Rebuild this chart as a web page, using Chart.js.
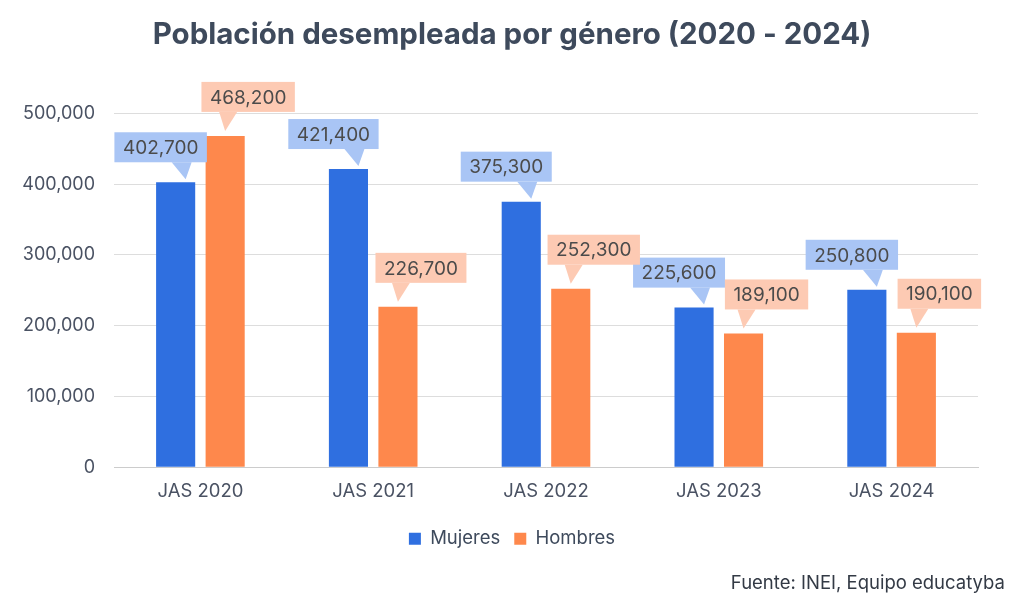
<!DOCTYPE html>
<html>
<head>
<meta charset="utf-8">
<script src="https://cdn.jsdelivr.net/npm/chart.js@4.4.1/dist/chart.umd.min.js"></script>
<style>
  html, body { margin: 0; padding: 0; background: #ffffff; }
  #wrap { position: relative; width: 1024px; height: 608px; }
  #source { position: absolute; right: 19px; top: 571px; font: 18.5px Inter, sans-serif; color: #333a45; }
</style>
</head>
<body>
<div id="wrap">
  <canvas id="c" width="1024" height="608"></canvas>
  <div id="source">Fuente: INEI, Equipo educatyba</div>
</div>
<script>
const categories = ['JAS 2020', 'JAS 2021', 'JAS 2022', 'JAS 2023', 'JAS 2024'];
const mujeres = [402700, 421400, 375300, 225600, 250800];
const hombres = [468200, 226700, 252300, 189100, 190100];
const yTicks = [0, 100000, 200000, 300000, 400000, 500000];
const titleText = 'Población desempleada por género (2020 - 2024)';

const fmt = v => v.toLocaleString('en-US');

const calloutPlugin = {
  id: 'callouts',
  afterDatasetsDraw(chart) {
    const ctx = chart.ctx;
    ctx.save();
    ctx.font = '19px Inter, sans-serif';
    chart.data.datasets.forEach((ds, di) => {
      const meta = chart.getDatasetMeta(di);
      meta.data.forEach((bar, i) => {
        const text = fmt(ds.data[i]);
        const tw = ctx.measureText(text).width;
        const bw = tw + 17, bh = 30;
        const isM = di === 0;
        const cx = bar.x + (isM ? -15 : 23);
        const bottom = bar.y - (isM ? 20 : 24);
        const left = cx - bw / 2;
        ctx.fillStyle = ds.calloutColor;
        ctx.fillRect(left, bottom - bh, bw, bh);
        ctx.beginPath();
        if (isM) {
          ctx.moveTo(bar.x - 4, bottom);
          ctx.lineTo(bar.x + 16, bottom);
          ctx.lineTo(bar.x + 10, bar.y - 3);
        } else {
          ctx.moveTo(bar.x - 6, bottom);
          ctx.lineTo(bar.x + 12, bottom);
          ctx.lineTo(bar.x, bar.y - 5);
        }
        ctx.closePath();
        ctx.fill();
        ctx.fillStyle = '#4b4b4b';
        ctx.textAlign = 'center';
        ctx.textBaseline = 'middle';
        ctx.fillText(text, cx, bottom - bh / 2 + 1);
      });
    });
    ctx.restore();
  }
};

new Chart(document.getElementById('c'), {
  type: 'bar',
  data: {
    labels: categories,
    datasets: [
      { label: 'Mujeres', data: mujeres, backgroundColor: '#2f6fe0', calloutColor: '#a9c5f5' },
      { label: 'Hombres', data: hombres, backgroundColor: '#fe884c', calloutColor: '#fdcab3' }
    ]
  },
  options: {
    responsive: false,
    animation: false,
    categoryPercentage: 0.573,
    barPercentage: 0.79,
    layout: { padding: { left: 0, right: 0, top: 0, bottom: 50 } },
    plugins: {
      title: {
        display: true, text: titleText,
        font: { family: 'Inter, sans-serif', size: 29.5, weight: 'bold' },
        color: '#3e4a5c',
        padding: { top: 17, bottom: 61 }
      },
      legend: {
        position: 'bottom',
        labels: {
          boxWidth: 12, boxHeight: 12, padding: 14,
          font: { family: 'Inter, sans-serif', size: 18.5 },
          color: '#3e4a5c'
        }
      },
      tooltip: { enabled: false }
    },
    scales: {
      x: {
        grid: { display: false, drawTicks: false },
        border: { color: '#cccccc' },
        ticks: { padding: 13, color: '#4a5263', font: { family: 'Inter, sans-serif', size: 18.5 } }
      },
      y: {
        min: 0, max: 500000,
        afterFit(scale) { scale.width = 114; },
        afterBuildTicks(scale) { scale.ticks = yTicks.map(v => ({ value: v })); },
        grid: { color: '#dddddd', drawTicks: false },
        border: { display: false },
        ticks: {
          padding: 19, color: '#4a5263',
          font: { family: 'Inter, sans-serif', size: 18 },
          callback: v => fmt(v)
        }
      },
      yRight: {
        position: 'right',
        display: true,
        afterFit(scale) { scale.width = 46; },
        grid: { display: false, drawTicks: false },
        border: { display: false },
        ticks: { display: false }
      }
    }
  },
  plugins: [calloutPlugin]
});
</script>
</body>
</html>
